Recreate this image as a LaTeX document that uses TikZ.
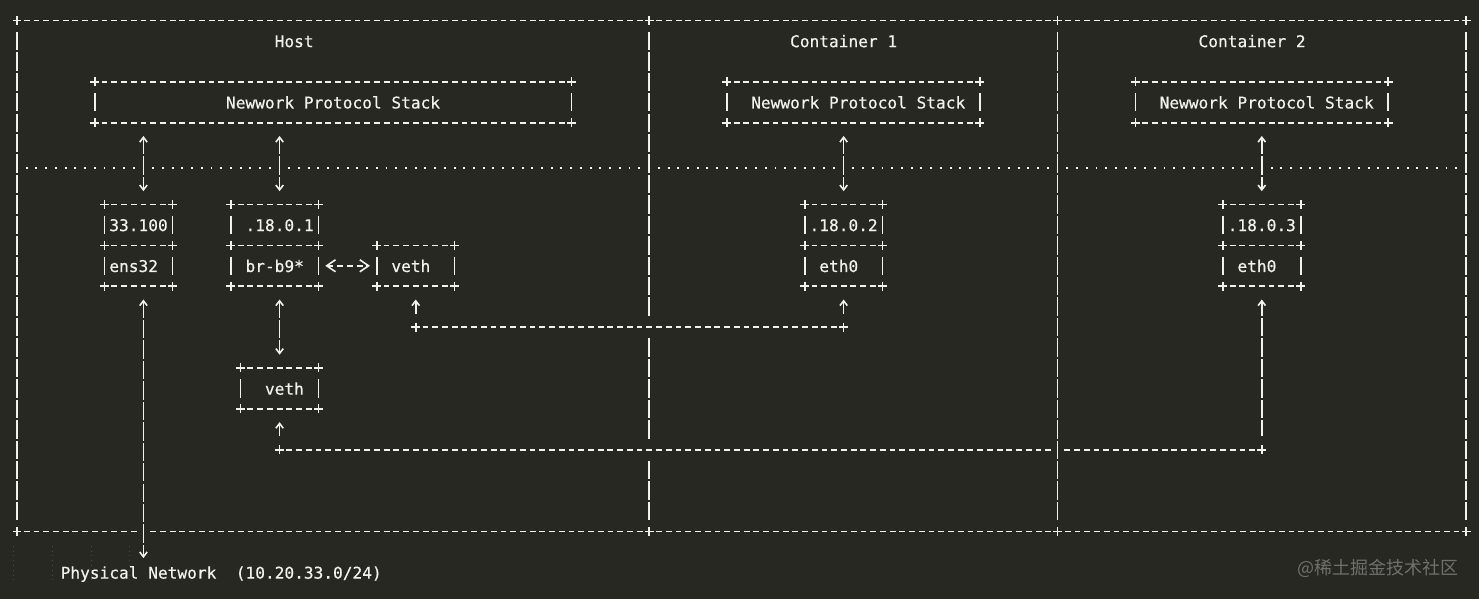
\documentclass[tikz,border=0pt]{standalone}
\usepackage{fontspec}
\setmonofont[FakeBold=0.5]{DejaVu Sans Mono}
\newfontfamily\cjkfont{Noto Sans CJK SC}
\usepackage{tikz}
\usetikzlibrary{arrows.meta, calc}

\definecolor{Board}{RGB}{39,40,34}
\definecolor{Ink}{RGB}{242,242,236}
\definecolor{Mark}{RGB}{112,112,108}
\definecolor{Guide}{RGB}{70,71,64}

\begin{document}
\begin{tikzpicture}
  [
    x=4.8625pt, y=-10.22pt,
    >={Straight Barb[length=2.4pt, width=3.7pt]},
    Line/.style={draw=Ink, line width=0.8pt},
    Text/.style={text=Ink, inner sep=0pt, outer sep=0pt, text height=6.2pt, text depth=0pt,
      font=\ttfamily\fontsize{8.08pt}{10pt}\selectfont},
    Box/.style 2 args={Text, minimum width=#1*4.8625pt, minimum height=#2*10.22pt},
    HRun/.style={Line, dash pattern=on 2.92pt off 1.945pt, shorten <=3.4pt, shorten >=3.4pt},
    VRun/.style={Line, dash pattern=on 9.2pt off 1.02pt, shorten <=5.62pt, shorten >=5.62pt},
    VLink/.style={Line, dash pattern=on 9.2pt off 1.02pt, dash phase=1.02pt, shorten <=6.64pt, shorten >=6.64pt},
    HLink/.style={HRun, >={Straight Barb[length=4.4pt, width=6pt]}},
    Dots/.style={draw=Ink, line width=1pt, dash pattern=on 0.97pt off 3.89pt, shorten <=4.38pt, shorten >=4.38pt},
    Plus/.pic={\draw[Line] (-0.46,0) -- (0.46,0) (0,-0.22) -- (0,0.22);}
  ]
  % Background
  \fill[Board] (-1.748,-1.003) rectangle (150.334,28.302);
  \useasboundingbox (-1.748,-1.003) rectangle (150.334,28.302);

  % Frames
  \draw[HRun] (0,0) -- (149,0);
  \draw[HRun] (0,25) -- (13,25);
  \draw[HRun] (13,25) -- (149,25);
  \foreach \c in {0,107,149}
    \draw[VRun] (\c,0) -- (\c,25);
  \foreach \a/\b in {0/15,15/21,21/25}
    \draw[VRun] (65,\a) -- (65,\b);
  \foreach \c in {0,65,107,149}{
    \pic at (\c,0) {Plus};
    \pic at (\c,25) {Plus};
  }
  \foreach \a/\b in {0/13,13/27,27/65,65/85,85/107,107/128,128/149}
    \draw[Dots] (\a,7.2) -- (\b,7.2);

  % Nodes
  \node[Text] (hosttitle) at (28.5,1) {Host};
  \node[Text] (c1title) at (85,1) {Container 1};
  \node[Text] (c2title) at (127,1) {Container 2};
  \node[Box={49}{2}] (hstack) at (32.5,4) {Newwork Protocol Stack};
  \node[Box={26}{2}] (c1stack) at (86,4) {~~Newwork Protocol Stack\phantom{0}};
  \node[Box={26}{2}] (c2stack) at (128,4) {~~Newwork Protocol Stack\phantom{0}};
  \node[Box={7}{2}] (hip) at (12.5,10) {33.100};
  \node[Box={7}{2}] (hif) at (12.5,12) {ens32\phantom{0}};
  \node[Box={9}{2}] (brip) at (26.5,10) {~.18.0.1};
  \node[Box={9}{2}] (brif) at (26.5,12) {~br-b9*\phantom{0}};
  \node[Box={8}{2}] (vethc) at (41,12) {~veth\phantom{00}};
  \node[Box={8}{2}] (vethh) at (27,18) {~~veth\phantom{0}};
  \node[Box={8}{2}] (c1ip) at (85,10) {.18.0.2};
  \node[Box={8}{2}] (c1if) at (85,12) {~eth0\phantom{00}};
  \node[Box={8}{2}] (c2ip) at (128,10) {.18.0.3};
  \node[Box={8}{2}] (c2if) at (128,12) {~eth0\phantom{00}};
  \node[Text, minimum height=10.22pt] (phys) at (21,27) {Physical Network~~(10.20.33.0/24)};
  \node[text=Mark, inner sep=0pt, font=\cjkfont\fontsize{9pt}{10pt}\selectfont] (mark) at (139.95,26.79) {@稀土掘金技术社区};

  \foreach \b in {hstack,c1stack,c2stack,hip,hif,brip,brif,vethc,vethh,c1ip,c1if,c2ip,c2if}{
    \draw[HRun] (\b.north west) -- (\b.north east);
    \draw[HRun] (\b.south west) -- (\b.south east);
    \draw[VRun] (\b.north west) -- (\b.south west);
    \draw[VRun] (\b.north east) -- (\b.south east);
    \foreach \k in {north west,north east,south west,south east}
      \pic at (\b.\k) {Plus};
  }

  \coordinate (ensport) at (13,0);
  \coordinate (brport) at (27,0);
  \coordinate (vj) at (41,15);
  \coordinate (c1j) at (85,15);
  \coordinate (vj2) at (27,21);
  \coordinate (c2wall) at (107,21);
  \coordinate (c2j) at (128,21);

  % Lines
  \draw[VLink, <->] (hstack.south -| ensport) -- (hip.north -| ensport);
  \draw[VLink, <->] (hstack.south -| brport) -- (brip.north -| brport);
  \draw[VLink, <->] (c1stack.south -| c1ip.north) -- (c1ip.north);
  \draw[VLink, <->] (c2stack.south) -- (c2ip.north);
  \draw[VLink, <->, shorten >=2.04pt] (hif.south -| ensport) -- (phys.north -| ensport);
  \draw[VLink, <->] (brif.south -| vethh.north) -- (vethh.north);
  \draw[HLink, <->] (brif.east) -- (vethc.west);
  \draw[VLink, ->] (vj) -- (vethc.south);
  \draw[HRun] (vj) -- (c1j);
  \draw[VLink, ->] (c1j) -- (c1if.south);
  \draw[VLink, ->] (vj2) -- (vethh.south);
  \draw[HRun] (vj2) -- (c2wall);
  \draw[HRun] (c2wall) -- (c2j);
  \draw[VLink, ->] (c2j) -- (c2if.south);
  \foreach \j in {vj,c1j,vj2,c2j}
    \pic at (\j) {Plus};

  % Editor guides
  \foreach \c in {-0.41,3.6,7.6,11.6}
    \draw[Guide, dotted, line width=0.4pt] (\c,25.7) -- (\c,27.4);
\end{tikzpicture}
\end{document}
